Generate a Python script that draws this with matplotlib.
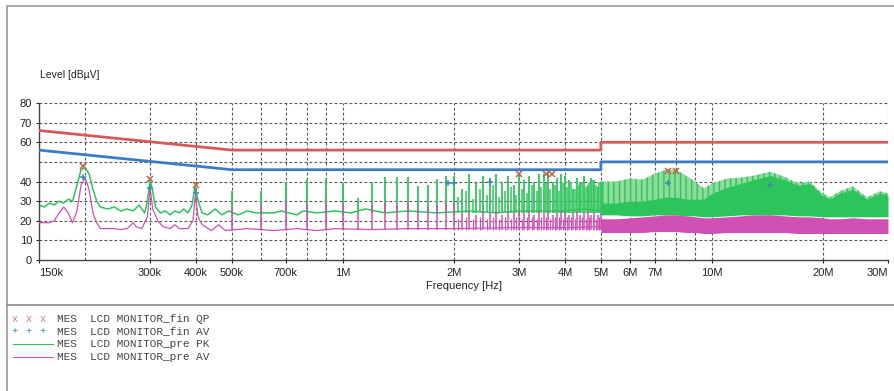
import matplotlib
matplotlib.use("Agg")
import matplotlib.pyplot as plt
from matplotlib.lines import Line2D
from matplotlib.patches import Rectangle

# limit lines (MHz, dBuV)
qp_limit_f = [0.15, 0.5, 5.0, 5.0, 30.0]
qp_limit_v = [66, 56, 56, 60, 60]
av_limit_f = [0.15, 0.5, 5.0, 5.0, 30.0]
av_limit_v = [56, 46, 46, 50, 50]

# PK prescan trace, broad part (MHz, dBuV)
pk_f = [0.150, 0.155, 0.160, 0.165, 0.170, 0.175, 0.180, 0.185, 0.190, 0.195,
        0.200, 0.205, 0.210, 0.215, 0.220, 0.230, 0.240, 0.250, 0.260, 0.270,
        0.280, 0.290, 0.295, 0.300, 0.305, 0.310, 0.320, 0.330, 0.340, 0.350,
        0.360, 0.370, 0.380, 0.390, 0.397, 0.405, 0.415, 0.430, 0.450, 0.470,
        0.490, 0.520, 0.550, 0.580, 0.650, 0.680, 0.750, 0.780, 0.850, 0.950,
        1.05, 1.15, 1.30, 1.50, 1.80, 2.20, 2.60, 3.00, 3.50, 4.00, 4.50, 5.00]
pk_v = [28, 27, 29, 28, 30, 29, 31, 30, 38, 46,
        47, 44, 36, 30, 27, 26, 27, 25, 26, 25,
        28, 24, 30, 41, 35, 27, 24, 25, 23, 25,
        24, 26, 24, 28, 37.5, 30, 24, 23, 26, 23,
        25, 23, 25, 24, 24, 25, 23, 25, 24, 25,
        24, 26, 24, 25, 24, 25, 24, 25, 25, 25, 26, 25]

# PK harmonic spikes (MHz, top dBuV)
pk_spike_f = [0.5, 0.6, 0.7, 0.8, 0.9, 1.0, 1.1, 1.2, 1.3, 1.4, 1.5, 1.6, 1.7,
              1.8, 1.9, 2.0, 2.1, 2.2, 2.3, 2.4, 2.5, 2.6, 2.7, 2.8, 2.9, 3.0,
              3.1, 3.2, 3.3, 3.4, 3.5, 3.6, 3.7, 3.8, 3.9, 4.0, 4.1, 4.2, 4.3,
              4.4, 4.5, 4.6, 4.7, 4.8, 4.9, 5.0]
pk_spike_top = [35, 35, 40, 41.5, 41.5, 39, 31.5, 40, 42.5, 42.5, 42.5, 37.5, 38,
                41.5, 43, 43, 36, 44, 39, 43, 42, 44, 40, 43, 38, 44,
                41, 43, 40, 44, 44, 45, 40, 42, 44, 43, 41, 36, 42,
                40, 43, 38, 42, 41, 37, 40]
# weaker in-between spikes, 2-5 MHz
pk_sub_f = [2.05, 2.15, 2.25, 2.35, 2.45, 2.55, 2.65, 2.75, 2.85, 2.95,
            3.05, 3.15, 3.25, 3.35, 3.45, 3.55, 3.65, 3.75, 3.85, 3.95,
            4.05, 4.15, 4.25, 4.35, 4.45, 4.55, 4.65, 4.75, 4.85, 4.95]
pk_sub_top = [32, 35, 31, 36, 33, 38, 32, 35, 37, 33,
              36, 34, 38, 35, 37, 39, 36, 38, 35, 39,
              37, 40, 36, 38, 40, 37, 39, 41, 38, 40]
pk_floor = 24

# AV prescan trace (MHz, dBuV)
av_f = [0.150, 0.160, 0.165, 0.170, 0.175, 0.180, 0.185, 0.190, 0.195, 0.200,
        0.205, 0.210, 0.215, 0.220, 0.240, 0.250, 0.260, 0.270, 0.275, 0.285,
        0.295, 0.300, 0.305, 0.315, 0.325, 0.340, 0.350, 0.360, 0.380, 0.392,
        0.398, 0.405, 0.415, 0.440, 0.460, 0.480, 0.550, 0.650, 0.750, 0.850,
        0.950, 1.20, 1.50, 2.00, 3.00, 4.00, 5.00]
av_v = [19, 19, 20, 24, 27, 24, 19, 25, 38, 42,
        36, 24, 19, 16, 16, 15.5, 16, 19, 17, 16,
        22, 37, 26, 20, 17, 16, 18, 16, 16, 20,
        33, 22, 18, 15, 18, 15, 16, 15, 16, 15,
        16, 15.5, 16, 16, 16.5, 16.5, 17]
av_spike_top = [27, 28, 30, 28, 29, 28, 24, 28, 29, 28, 29, 26, 27,
                28, 29, 29, 24, 25, 23, 25, 24, 25, 23, 25, 24, 25,
                24, 25, 23, 25, 24, 25, 23, 24, 25, 24, 23, 24, 25,
                23, 24, 25, 23, 24, 23, 24]
av_sub_top = [21, 22, 21, 22, 21, 22, 21, 22, 21, 22,
              21, 22, 22, 21, 22, 22, 21, 22, 22, 21,
              22, 22, 21, 22, 22, 21, 22, 22, 21, 22]
av_floor = 15.5

# dense region above 5 MHz: envelopes (MHz, dBuV)
band_f = [5.0, 5.5, 6.0, 6.5, 7.0, 7.5, 8.0, 8.5, 9.0, 9.5, 10, 11, 12, 13,
          14.4, 15.7, 17.1, 18.4, 19.9, 20.9, 22.2, 24.1, 26.3, 28.5, 30]
pk_band_top = [40, 40, 41.5, 41, 44, 46, 46, 43, 40, 36.5, 39, 41.5, 42, 43,
               45, 42.5, 39, 40, 34, 32, 35, 37.5, 32, 35, 34]
pk_band_solid = [29, 29, 30, 30, 31, 32, 32, 31, 31, 31, 34, 37, 39, 41,
                 43, 41, 38, 39, 33, 31, 34, 36, 31, 34, 33]
pk_band_low = [23, 23, 22.5, 22.5, 23, 23, 23, 22.5, 22.5, 22, 22, 22.5, 23, 23,
               23, 23, 22.5, 22.5, 22, 22, 22, 22, 22, 22, 22]
av_band_top = [21, 21, 21.5, 22, 22.5, 23, 23, 22.5, 22, 21.5, 21.5, 22, 22.5, 23,
               23, 22.5, 22, 22, 21.5, 21, 21, 21.5, 21, 21, 21]
av_band_low = [14, 14, 14, 14, 14.5, 14.5, 14.5, 14, 14, 13.5, 13.5, 14, 14, 14,
               14, 14, 13.5, 13.5, 13.5, 13.5, 13.5, 13.5, 13.5, 13.5, 13.5]

# final measurements
qp_mark_f = [0.197, 0.300, 0.400, 3.00, 3.55, 3.68, 7.6, 8.0]
qp_mark_v = [48, 41.5, 38, 44, 44, 44, 45.5, 45.5]
av_mark_f = [0.197, 0.300, 0.400, 1.93, 2.00, 2.50, 7.6, 14.4]
av_mark_v = [42.5, 36.5, 34, 39, 39, 39.5, 39, 38]

xtick_f = [0.15, 0.3, 0.4, 0.5, 0.7, 1, 2, 3, 4, 5, 6, 7, 10, 20, 30]
xtick_lab = ['150k', '300k', '400k', '500k', '700k', '1M', '2M', '3M', '4M',
             '5M', '6M', '7M', '10M', '20M', '30M']
xgrid_f = [0.2, 0.3, 0.4, 0.5, 0.6, 0.7, 0.8, 0.9, 1, 2, 3, 4, 5, 6, 7, 8, 9,
           10, 20, 30]
ytick_v = [0, 10, 20, 30, 40, 60, 70, 80]

green = '#2ec45c'
light_green = '#8ddc9c'
magenta = '#d050b4'
red = '#d65a5a'
blue = '#3a7cc6'

plt.rcParams['font.family'] = ['Liberation Sans', 'DejaVu Sans']
plt.rcParams['hatch.linewidth'] = 1.0

fig = plt.figure(figsize=(8.94, 3.91), dpi=100)
W, H = 894, 391
ax = fig.add_axes([39 / W, (H - 260) / H, 849 / W, 157 / H])

# grid
for f in xgrid_f:
    ax.axvline(f, color='#555555', lw=0.8, ls=(0, (2.5, 2)), zorder=0)
for v in range(10, 90, 10):
    ax.axhline(v, color='#555555', lw=0.8, ls=(0, (2.5, 2)), zorder=0)

# dense band above 5 MHz
ax.fill_between(band_f, pk_band_low, pk_band_top, facecolor=light_green,
                edgecolor=green, hatch='|||', lw=0, zorder=2)
ax.fill_between(band_f, pk_band_low, pk_band_solid, color=green, lw=0, zorder=2)
ax.fill_between(band_f, av_band_low, av_band_top, color=magenta, lw=0, zorder=3)

# prescan traces
ax.vlines(pk_spike_f, pk_floor, pk_spike_top, color=green, lw=1.3, zorder=2)
ax.vlines(pk_sub_f, pk_floor, pk_sub_top, color=green, lw=1.1, zorder=2)
ax.plot(pk_f, pk_v, color=green, lw=1.1, zorder=2)
ax.vlines(pk_spike_f, av_floor, av_spike_top, color=magenta, lw=1.1, zorder=3)
ax.vlines(pk_sub_f, av_floor, av_sub_top, color=magenta, lw=0.9, zorder=3)
ax.plot(av_f, av_v, color=magenta, lw=0.9, zorder=3)

# limits
ax.plot(qp_limit_f, qp_limit_v, color=red, lw=2.0, zorder=4)
ax.plot(av_limit_f, av_limit_v, color=blue, lw=2.0, zorder=4)

# final markers
ax.plot(qp_mark_f, qp_mark_v, ls='none', marker='x', ms=4, mew=1.1,
        color='#c0624a', zorder=5)
ax.plot(av_mark_f, av_mark_v, ls='none', marker='+', ms=5, mew=1.1,
        color='#3a8ab8', zorder=5)

ax.set_xscale('log')
ax.set_xlim(0.15, 30)
ax.set_ylim(0, 80)
ax.set_xticks(xtick_f)
ax.set_xticklabels(xtick_lab)
ax.minorticks_off()
ax.set_yticks(ytick_v)
ax.tick_params(axis='both', length=2, labelsize=8, colors='#222222', pad=3)
ax.tick_params(axis='x', pad=4)
xlabs = ax.get_xticklabels()
xlabs[0].set_horizontalalignment('left')
xlabs[-1].set_horizontalalignment('right')
for s in ['top', 'right']:
    ax.spines[s].set_visible(False)
for s in ['left', 'bottom']:
    ax.spines[s].set_color('#444444')
    ax.spines[s].set_linewidth(1.0)

ax.set_xlabel('Frequency [Hz]', fontsize=8, labelpad=2, color='#222222')
fig.text(40 / W, 1 - 75 / H, 'Level [dBµV]', fontsize=7.5, va='center',
         color='#222222')

# outer frame and separator
fig.add_artist(Rectangle((7 / W, -0.1), 1.0, 1 - 6 / H + 0.1,
                         transform=fig.transFigure, fill=False,
                         edgecolor='#9a9a9a', lw=1.2))
fig.add_artist(Line2D([7 / W, 1], [1 - 305 / H, 1 - 305 / H],
                      transform=fig.transFigure, color='#8a8a8a', lw=1.2))

# legend block
leg_y = [319, 331, 344, 357]
leg_txt = ['MES  LCD MONITOR_fin QP', 'MES  LCD MONITOR_fin AV',
           'MES  LCD MONITOR_pre PK', 'MES  LCD MONITOR_pre AV']
for i, (y, t) in enumerate(zip(leg_y, leg_txt)):
    yy = 1 - y / H
    if i == 0:
        for x in [15, 29, 43]:
            fig.text(x / W, yy, 'x', fontsize=7.5, color='#d08080',
                     family='Liberation Mono', ha='center', va='center')
    elif i == 1:
        for x in [15, 29, 43]:
            fig.text(x / W, yy, '+', fontsize=7.5, color='#3a8ab8',
                     family='Liberation Mono', ha='center', va='center')
    else:
        c = green if i == 2 else magenta
        fig.add_artist(Line2D([13 / W, 53 / W], [yy, yy],
                              transform=fig.transFigure, color=c, lw=0.8))
    fig.text(57 / W, yy, t, fontsize=8, color='#444444',
             family='Liberation Mono', va='center')

fig.savefig('out.png', dpi=100)
